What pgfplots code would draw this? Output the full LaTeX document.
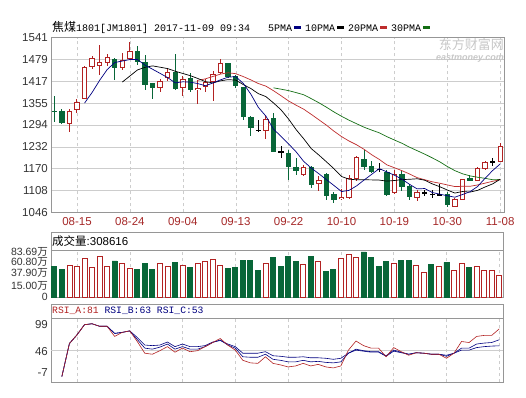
\documentclass[border=0pt]{standalone}
\usepackage{pgfplots}
\pgfplotsset{compat=1.18}
\usepackage{pgfplotstable}
\usepackage{fontspec}
\setmainfont{Liberation Sans}
\setmonofont{Liberation Mono}
\newfontfamily\cjk{Noto Sans CJK SC}
\definecolor{cred}{RGB}{178,34,34}
\definecolor{cgreen}{RGB}{8,102,56}
\definecolor{maA}{RGB}{0,0,128}
\definecolor{maB}{RGB}{0,0,0}
\definecolor{maC}{RGB}{190,45,45}
\definecolor{maD}{RGB}{20,110,20}
\definecolor{gridc}{RGB}{205,205,205}
\definecolor{framec}{RGB}{150,150,150}
\definecolor{datec}{RGB}{165,40,40}

% candles: i open high low close
\pgfplotstableread{
i o h l c
2 1298 1339 1273 1333
3 1337 1366 1328 1358
4 1369 1461 1366 1456
5 1458 1489 1451 1482
6 1463 1520 1434 1472
7 1472 1496 1461 1486
9 1457 1497 1449 1477
10 1482 1529 1477 1503
14 1399 1423 1387 1418
15 1427 1451 1418 1443
17 1401 1432 1377 1423
19 1393 1420 1353 1397
20 1404 1424 1387 1413
21 1418 1446 1361 1437
22 1442 1480 1437 1467
28 1278 1318 1254 1309
33 1153 1181 1148 1174
35 1129 1148 1106 1136
38 1086 1112 1080 1088
39 1089 1153 1084 1142
40 1143 1205 1134 1200
45 1101 1167 1099 1153
48 1087 1110 1077 1103
53 1063 1087 1061 1082
54 1082 1141 1080 1139
56 1137 1175 1134 1169
57 1169 1191 1167 1186
59 1191 1243 1188 1233
}\candleRise
\pgfplotstableread{
i o h l c
0 1333 1375 1302 1331
1 1331 1339 1295 1300
8 1478 1484 1420 1457
11 1503 1517 1465 1472
12 1470 1491 1392 1407
13 1411 1411 1368 1399
16 1442 1496 1394 1397
18 1426 1440 1387 1394
23 1467 1468 1427 1432
24 1432 1434 1399 1404
25 1399 1402 1307 1317
26 1316 1319 1262 1285
29 1311 1328 1216 1219
31 1214 1224 1139 1177
32 1174 1200 1153 1165
34 1172 1178 1115 1125
36 1153 1158 1082 1093
37 1096 1103 1072 1082
41 1197 1224 1167 1177
42 1177 1191 1158 1162
44 1160 1167 1093 1096
46 1153 1167 1106 1120
47 1120 1125 1082 1090
52 1096 1103 1061 1068
55 1141 1153 1134 1137
}\candleFall
\pgfplotstableread{
i o h l c
27 1279 1307 1275 1279
30 1217 1233 1200 1217
43 1168 1186 1160 1168
49 1101 1110 1091 1101
50 1097 1110 1087 1097
51 1096 1125 1091 1096
58 1190 1200 1177 1190
}\candleFlat

% moving averages
\pgfplotstableread{
i v
4 1355.6
5 1385.8
6 1420.2
7 1450.8
8 1470.6
9 1474.8
10 1479.0
11 1479.0
12 1463.2
13 1451.6
14 1439.8
15 1427.8
16 1412.8
17 1416.0
18 1415.0
19 1410.8
20 1404.8
21 1412.8
22 1421.6
23 1429.2
24 1430.6
25 1411.4
26 1381.0
27 1343.2
28 1318.6
29 1281.6
30 1261.4
31 1239.8
32 1217.2
33 1190.2
34 1171.4
35 1155.4
36 1138.6
37 1122.0
38 1104.8
39 1108.2
40 1121.0
41 1137.8
42 1153.8
43 1169.8
44 1160.6
45 1151.2
46 1139.8
47 1125.4
48 1112.4
49 1113.4
50 1102.2
51 1097.4
52 1093.0
53 1088.8
54 1096.4
55 1104.4
56 1119.0
57 1142.6
58 1164.4
59 1183.2
}\maf
\pgfplotstableread{
i v
9 1415.2
10 1432.4
11 1449.6
12 1457.0
13 1461.1
14 1457.3
15 1453.4
16 1445.9
17 1439.6
18 1433.3
19 1425.3
20 1416.3
21 1412.8
22 1418.8
23 1422.1
24 1420.7
25 1408.1
26 1396.9
27 1382.4
28 1373.9
29 1356.1
30 1336.4
31 1310.4
32 1280.2
33 1254.4
34 1226.5
35 1208.4
36 1189.2
37 1169.6
38 1147.5
39 1139.8
40 1138.2
41 1138.2
42 1137.9
43 1137.3
44 1134.4
45 1136.1
46 1138.8
47 1139.6
48 1141.1
49 1137.0
50 1126.7
51 1118.6
52 1109.2
53 1100.6
54 1104.9
55 1103.3
56 1108.2
57 1117.8
58 1126.6
59 1139.8
}\mat
\pgfplotstableread{
i v
19 1420.3
20 1424.4
21 1431.2
22 1437.9
23 1441.6
24 1439.0
25 1430.8
26 1421.4
27 1411.0
28 1403.6
29 1390.7
30 1376.4
31 1361.6
32 1349.5
33 1338.3
34 1323.6
35 1308.3
36 1293.1
37 1276.0
38 1260.7
39 1248.0
40 1237.3
41 1224.3
42 1209.1
43 1195.9
44 1180.5
45 1172.3
46 1164.0
47 1154.6
48 1144.3
49 1138.4
50 1132.5
51 1128.4
52 1123.6
53 1119.0
54 1119.7
55 1119.7
56 1123.5
57 1128.7
58 1133.9
59 1138.4
}\matw
\pgfplotstableread{
i v
29 1398.9
30 1395.0
31 1390.9
32 1385.3
33 1379.2
34 1368.2
35 1356.6
36 1344.0
37 1330.5
38 1318.2
39 1307.1
40 1297.0
41 1287.1
42 1279.0
43 1271.3
44 1260.5
45 1250.9
46 1241.6
47 1230.5
48 1220.8
49 1211.0
50 1200.4
51 1189.1
52 1175.8
53 1164.1
54 1155.3
55 1149.3
56 1145.4
57 1142.3
58 1138.4
59 1138.9
}\math

% volume (10k lots)
\pgfplotstableread{
i v
2 55.6
3 53.7
4 68.5
5 51.9
6 72.2
7 53.7
9 59.9
10 50.6
14 59.9
15 53.7
17 55.6
19 59.9
20 63.6
21 67.3
22 55.6
28 59.9
33 58.0
35 63.6
38 69.1
39 76.5
40 71.0
45 59.9
48 55.6
49 43.2
51 53.7
53 46.9
54 59.9
56 53.7
57 46.9
58 46.9
59 37.7
}\volup
\pgfplotstableread{
i v
0 53.7
1 49.4
8 64.2
11 48.8
12 59.9
13 48.8
16 61.7
18 52.5
23 50.6
24 52.5
25 65.4
26 65.4
27 46.9
29 71.0
30 53.7
31 72.8
32 63.6
34 72.8
36 45.1
37 48.8
41 80.2
42 71.0
43 54.3
44 63.6
46 65.4
47 65.4
50 58.0
52 61.7
55 52.5
}\voldn

% RSI
\pgfplotstableread{
i a b c
1 2 2 2
2 56.7 56.7 56.7
3 71 71 71
4 87.9 87.9 87.9
5 89.5 89.5 89.5
6 85.3 85.3 85.3
7 85.3 85.3 85.3
8 68.5 73.5 73.5
9 75.2 75.2 75.2
10 77.7 77.7 77.7
11 60.1 63.4 66.8
12 40.7 49.1 54.2
13 39.0 47.4 53.3
14 44.9 50.8 54.2
15 51.6 55.9 59.2
16 42.4 47.4 51.6
17 49.1 51.6 55.9
18 43.2 47.4 51.6
19 44.9 47.4 51.6
20 51.6 51.6 53.3
21 58.4 58.4 59.2
22 65.1 62.6 61.7
23 54.2 54.2 55.9
24 45.8 49.1 51.6
25 28.9 34.8 40.7
26 24.7 34.0 40.7
27 23.9 34.0 40.7
28 34.8 39.0 43.2
29 23.9 30.6 36.5
30 21.3 28.9 35.6
31 18.0 26.4 34.0
32 19.6 26.4 34.0
33 23.9 28.9 34.8
34 19.6 26.4 33.1
35 22.2 27.2 33.1
36 18.0 25.5 32.3
37 16.3 24.7 30.6
38 19.6 26.4 32.3
39 45.8 40.7 40.7
40 60.9 47.4 45.8
41 53.3 44.9 44.1
42 49.1 43.2 42.4
43 49.1 43.2 42.4
44 34.8 36.5 35.6
45 50.0 45.8 44.1
46 43.2 42.4 41.5
47 37.3 39.0 39.0
48 41.5 41.5 41.5
49 40.7 40.7 40.7
50 39.0 39.0 39.0
51 39.0 39.0 39.0
52 32.3 35.6 37.3
53 40.7 40.7 40.7
54 60.1 49.1 45.8
55 58.4 49.1 45.8
56 68.5 55.9 50.0
57 70.2 57.5 51.6
58 70.2 58.4 52.5
59 81 63 53
}\rsi

\pgfplotsset{
  panel/.style={
    scale only axis, anchor=south west,
    xmin=-0.44, xmax=59.5,
    axis line style={framec},
    tick style={draw=none},
    xtick={3,10,17,24,31,38,45,52,59},
    xmajorgrids,
    major x grid style={gridc, dash pattern=on 3pt off 3pt},
    tick label style={font=\fontsize{11.5}{12}\selectfont, inner sep=0pt},
    yticklabel style={anchor=east, xshift=-3pt, text=black!80},
  },
  candlebar/.style 2 args={forget plot, draw=none, mark=none,
    error bars/.cd, y dir=both, y explicit, error mark=none,
    error bar style={draw=#1, line width=#2, line cap=butt, solid}},
}

\begin{document}
\begin{tikzpicture}[x=1pt,y=1pt]
\path[use as bounding box] (0,0) rectangle (526,397);

% ---------------- main panel ----------------
\begin{axis}[panel, at={(51pt,184.7pt)}, width=453pt, height=174.6pt,
  ymin=1046, ymax=1541,
  ytick={1046,1107.875,1169.75,1231.625,1293.5,1355.375,1417.25,1479.125,1541},
  yticklabels={1046,1108,1170,1232,1294,1355,1417,1479,1541},
  ymajorgrids, major y grid style={gridc, solid},
  xticklabels={08-15,08-24,09-04,09-13,09-22,10-10,10-19,10-30,11-08},
  xticklabel style={text=datec, anchor=north, yshift=-4.5pt},
]
% wicks
\addplot[candlebar={cred}{1pt}] table[x=i, y expr=(\thisrow{h}+\thisrow{l})/2, y error expr=(\thisrow{h}-\thisrow{l})/2] {\candleRise};
\addplot[candlebar={cgreen}{1pt}] table[x=i, y expr=(\thisrow{h}+\thisrow{l})/2, y error expr=(\thisrow{h}-\thisrow{l})/2] {\candleFall};
\addplot[candlebar={black}{1pt}] table[x=i, y expr=(\thisrow{h}+\thisrow{l})/2, y error expr=(\thisrow{h}-\thisrow{l})/2] {\candleFlat};
% bodies
\addplot[candlebar={cred}{5.4pt}] table[x=i, y expr=(\thisrow{o}+\thisrow{c})/2, y error expr=(\thisrow{c}-\thisrow{o})/2+1.4] {\candleRise};
\addplot[candlebar={white}{3.4pt}] table[x=i, y expr=(\thisrow{o}+\thisrow{c})/2, y error expr=(\thisrow{c}-\thisrow{o})/2-1.4] {\candleRise};
\addplot[candlebar={cgreen}{5.4pt}] table[x=i, y expr=(\thisrow{o}+\thisrow{c})/2, y error expr=(\thisrow{o}-\thisrow{c})/2+1.2] {\candleFall};
\addplot[candlebar={black}{5.4pt}] table[x=i, y=o, y error expr=1.4] {\candleFlat};
% moving averages
\addplot[maD, line width=0.7pt] table[x=i,y=v] {\math};
\addplot[maC, line width=0.7pt] table[x=i,y=v] {\matw};
\addplot[maB, line width=0.7pt] table[x=i,y=v] {\mat};
\addplot[maA, line width=0.7pt] table[x=i,y=v] {\maf};
\end{axis}

% ---------------- volume panel ----------------
\begin{axis}[panel, at={(51pt,100pt)}, width=452pt, height=65pt,
  ymin=0, ymax=115.74,
  ytick={0,20.1,43.3,61.8,80.7},
  yticklabels={0,{15.00{\cjk 万}},{37.90{\cjk 万}},{60.80{\cjk 万}},{83.69{\cjk 万}}},
  yticklabel style={font=\fontsize{10.5}{10.5}\selectfont},
  xticklabels={},
]
\addplot[ybar, bar width=5pt, bar shift=0pt, draw=cred, fill=white, line width=0.8pt] table[x=i,y=v] {\volup};
\addplot[ybar, bar width=5pt, bar shift=0pt, draw=cgreen, fill=cgreen, line width=0.8pt] table[x=i,y=v] {\voldn};
\fill[white, draw=framec] (rel axis cs:0,0.7231) rectangle (rel axis cs:1,1);
\end{axis}
\node[anchor=west, inner sep=0pt] at (52,156) {\fontsize{11.5}{12}\selectfont{\cjk 成交量}:308616};

% ---------------- RSI panel ----------------
\begin{axis}[panel, at={(51pt,15pt)}, width=452pt, height=78pt,
  ymin=-7, ymax=122.2,
  ytick={7.9,43,87.4},
  yticklabels={-7,46,99},
  xticklabels={},
]
\draw[gridc] (axis cs:-0.44,46) -- (axis cs:59.5,46);
\addplot[maA, line width=0.6pt] table[x=i,y=c] {\rsi};
\addplot[maA, line width=0.6pt] table[x=i,y=b] {\rsi};
\addplot[cred, line width=0.6pt] table[x=i,y=a] {\rsi};
\fill[white, draw=framec] (rel axis cs:0,0.8205) rectangle (rel axis cs:1,1);
\end{axis}
\node[anchor=west, inner sep=0pt] at (52,86) {\fontsize{9.7}{10}\selectfont\ttfamily\textcolor{cred}{RSI\_A:81} \textcolor{maA}{RSI\_B:63} \textcolor{maA}{RSI\_C:53}};

% ---------------- title ----------------
\node[anchor=west, inner sep=0pt] at (52,370) {\fontsize{10}{10}\selectfont
  {\cjk\fontsize{12}{12}\selectfont 焦煤}\ttfamily 1801[JM1801] 2017-11-09 09:34\hspace{18pt}%
  5PMA\hspace{2pt}\textcolor{maA}{\raisebox{2pt}{\rule{7pt}{3pt}}}\hspace{4pt}%
  10PMA\hspace{2pt}\textcolor{maB}{\raisebox{2pt}{\rule{7pt}{3pt}}}\hspace{4pt}%
  20PMA\hspace{2pt}\textcolor{maC}{\raisebox{2pt}{\rule{7pt}{3pt}}}\hspace{4pt}%
  30PMA\hspace{2pt}\textcolor{maD}{\raisebox{2pt}{\rule{7pt}{3pt}}}};
\node[anchor=east, inner sep=0pt, text=black!22] at (504,352.5) {\cjk\fontsize{13}{13}\selectfont 东方财富网};
\node[anchor=east, inner sep=0pt, text=black!22] at (504,338.5) {\fontsize{9}{9}\selectfont\bfseries\itshape eastmoney.com};
\end{tikzpicture}
\end{document}
